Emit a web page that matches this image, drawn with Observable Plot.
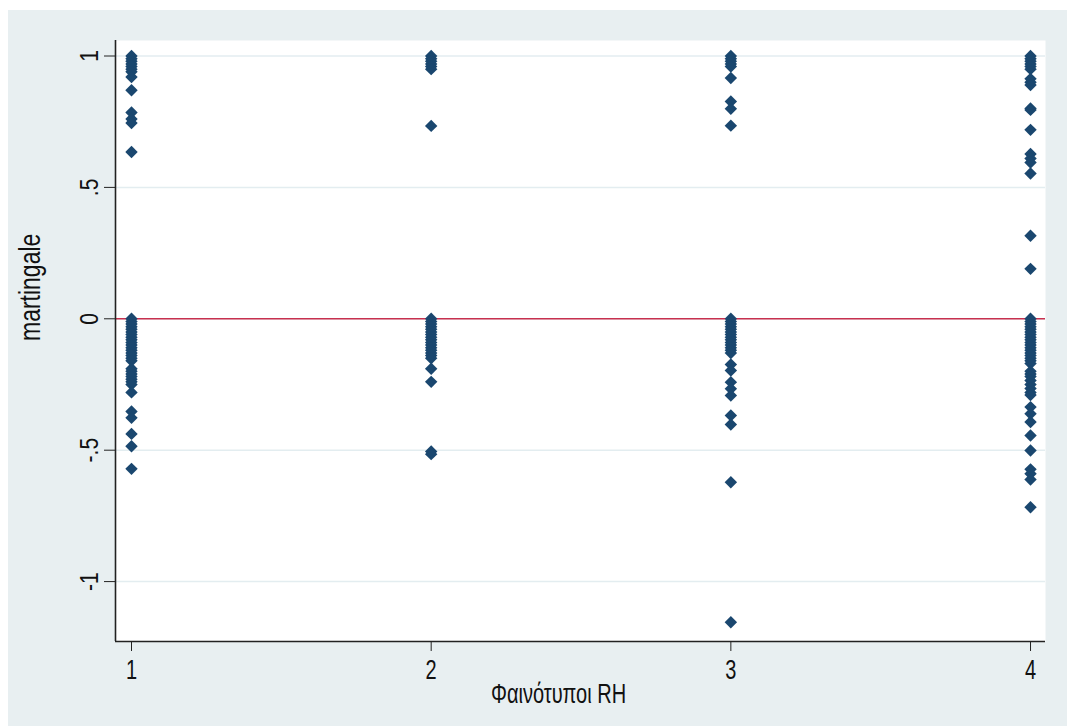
<!DOCTYPE html>
<html><head><meta charset="utf-8">
<script src="https://cdn.jsdelivr.net/npm/d3@7"></script>
<script src="https://cdn.jsdelivr.net/npm/@observablehq/plot@0.6"></script>
<style>
html,body{margin:0;padding:0;background:#fff;}
#bg{position:absolute;left:8px;top:10px;width:1059px;height:716px;background:#e8eff1;}
#chart{position:absolute;left:0;top:0;}
#chart svg text{fill:#111;}
</style></head>
<body><div id="bg"></div><div id="chart"></div>
<script>
const groups = [1, 2, 3, 4];
const xTickLabels = ["1", "2", "3", "4"];
const yTicks = [-1, -0.5, 0, 0.5, 1];
const yTickLabels = ["-1", "-.5", "0", ".5", "1"];
const xTitle = "Φαινότυποι RH";
const yTitle = "martingale";
const refLine = [0];

const g1 = [1.0, 0.99, 0.98, 0.97, 0.96, 0.95, 0.94, 0.92, 0.87, 0.785, 0.76, 0.745, 0.635,
  0, -0.01, -0.02, -0.03, -0.04, -0.05, -0.06, -0.07, -0.08, -0.09, -0.10, -0.11, -0.12, -0.13, -0.14, -0.15, -0.16,
  -0.19, -0.20, -0.21, -0.22, -0.23, -0.24, -0.25, -0.28, -0.353, -0.377, -0.438, -0.485, -0.571];
const g2 = [1.0, 0.99, 0.98, 0.97, 0.96, 0.95, 0.734,
  0, -0.01, -0.02, -0.03, -0.04, -0.05, -0.06, -0.07, -0.08, -0.09, -0.10, -0.11, -0.12, -0.13, -0.14, -0.15,
  -0.19, -0.24, -0.505, -0.515];
const g3 = [1.0, 0.99, 0.98, 0.97, 0.96, 0.916, 0.827, 0.799, 0.735,
  0, -0.01, -0.02, -0.03, -0.04, -0.05, -0.06, -0.07, -0.08, -0.09, -0.10, -0.11, -0.12, -0.13,
  -0.174, -0.197, -0.241, -0.266, -0.292, -0.368, -0.402, -0.622, -1.155];
const g4 = [1.0, 0.99, 0.98, 0.97, 0.96, 0.95, 0.913, 0.9, 0.89, 0.80, 0.795, 0.719, 0.627, 0.61, 0.595, 0.553, 0.316, 0.19,
  0, -0.01, -0.02, -0.03, -0.04, -0.05, -0.06, -0.07, -0.08, -0.09, -0.10, -0.11, -0.12, -0.13, -0.14, -0.15, -0.16, -0.17,
  -0.20, -0.21, -0.22, -0.235, -0.25, -0.265, -0.28, -0.29, -0.336, -0.361, -0.393, -0.444, -0.501, -0.573, -0.59, -0.612, -0.717];

const data = [g1, g2, g3, g4].flatMap((vals, i) => vals.map(v => ({group: groups[i], martingale: v})));

const xDomain = [0.9466, 4.05];
const yDomain = [-1.228, 1.059];

const chart = Plot.plot({
  width: 1067, height: 726,
  marginLeft: 115, marginRight: 22, marginTop: 40, marginBottom: 85,
  style: {background: "transparent", fontFamily: "'Liberation Sans', Arial, sans-serif", fontSize: "20px", color: "#111", overflow: "visible"},
  x: {domain: xDomain},
  y: {domain: yDomain},
  marks: [
    Plot.frame({fill: "white", stroke: "none"}),
    Plot.ruleY(yTicks, {stroke: "#e3edf0", strokeWidth: 1.5}),
    Plot.ruleY(refLine, {stroke: "#c8304f", strokeWidth: 1.5}),
    Plot.dot(data, {x: "group", y: "martingale", symbol: "diamond2", r: 5.6, fill: "#1a476f", stroke: "none"}),
    Plot.ruleX([xDomain[0]], {stroke: "#222", strokeWidth: 1.6}),
    Plot.ruleY([yDomain[0]], {stroke: "#222", strokeWidth: 1.6}),
    Plot.axisX({ticks: groups, tickFormat: (d, i) => xTickLabels[i], tickSize: 10, tickPadding: 10, fontSize: 20, label: null, stroke: "#222"}),
    Plot.axisY({ticks: yTicks, tickFormat: () => "", tickSize: 11, label: null, stroke: "#222"}),
    Plot.text(yTicks, {x: () => xDomain[0], y: d => d, text: (d, i) => yTickLabels[i], rotate: -90, dx: -18, lineAnchor: "bottom", textAnchor: "middle", fontSize: 21}),
    Plot.text([yTitle], {frameAnchor: "left", text: d => d, rotate: -90, dx: -75, lineAnchor: "bottom", fontSize: 23}),
    Plot.text([xTitle], {frameAnchor: "bottom", text: d => d, dy: 59, dx: -22, lineAnchor: "bottom", fontSize: 20})
  ]
});
document.getElementById("chart").appendChild(chart);

// Stata's text is taller than it is wide: stretch each label along its own vertical axis
function isRotated(el) {
  for (let n = el; n && n !== chart; n = n.parentNode) {
    const t = n.getAttribute && n.getAttribute("transform");
    if (t && t.includes("rotate")) return true;
  }
  return false;
}
chart.querySelectorAll("text").forEach(el => {
  const b = el.getBBox();
  const old = el.getAttribute("transform") || "";
  if (isRotated(el)) {
    const by = b.y + b.height * 0.81;
    el.setAttribute("transform", `${old} translate(0,${by}) scale(1,1.25) translate(0,${-by})`);
  } else {
    const lx = b.x + b.width / 2, ly = b.y + b.height / 2;
    el.setAttribute("transform", `${old} translate(${lx},${ly}) scale(1,1.4) translate(${-lx},${-ly})`);
  }
});
</script>
</body></html>
